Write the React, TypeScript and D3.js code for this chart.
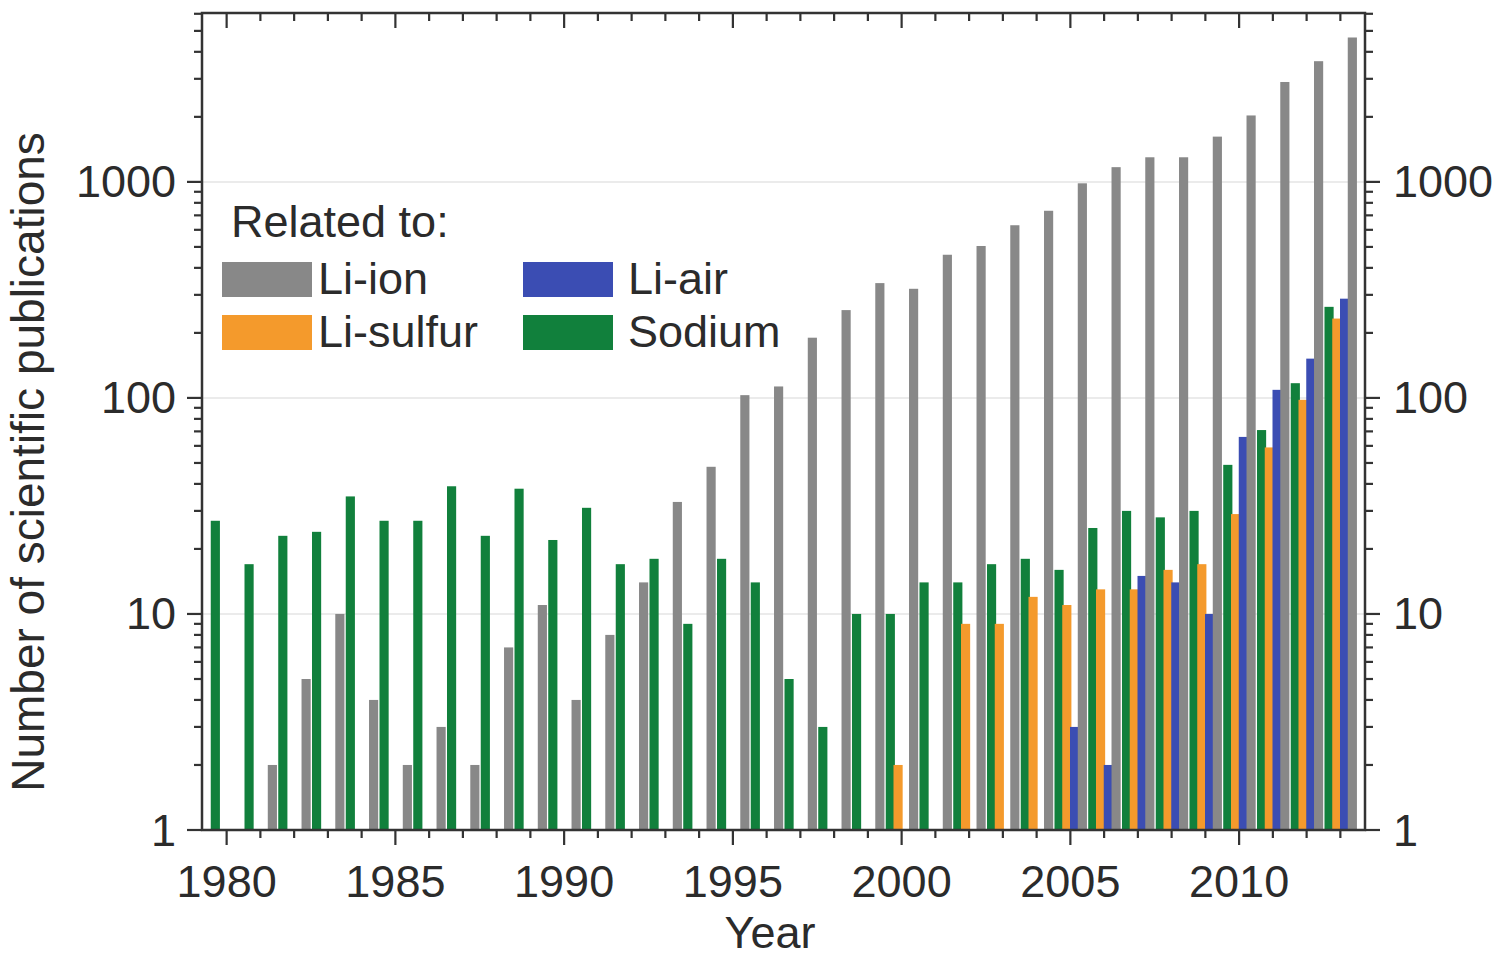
import React from "react";
import * as d3 from "d3";

const years: number[] = d3.range(1980, 2014);
const liIon: number[] = [0, 2, 5, 10, 4, 2, 3, 2, 7, 11, 4, 8, 14, 33, 48, 103, 113, 190, 255, 340, 320, 460, 505, 630, 735, 985, 1170, 1300, 1300, 1620, 2030, 2900, 3620, 4660];
const liSulfur: number[] = [0, 0, 0, 0, 0, 0, 0, 0, 0, 0, 0, 0, 0, 0, 0, 0, 0, 0, 0, 0, 2, 0, 9, 9, 12, 11, 13, 13, 16, 17, 29, 59, 98, 233];
const liAir: number[] = [0, 0, 0, 0, 0, 0, 0, 0, 0, 0, 0, 0, 0, 0, 0, 0, 0, 0, 0, 0, 0, 0, 0, 0, 0, 3, 2, 15, 14, 10, 66, 109, 152, 288];
const sodium: number[] = [27, 17, 23, 24, 35, 27, 27, 39, 23, 38, 22, 31, 17, 18, 9, 18, 14, 5, 3, 10, 10, 14, 14, 17, 18, 16, 25, 30, 28, 30, 49, 71, 117, 264];

const seriesOrder: string[] = ["Sodium", "Li-sulfur", "Li-air", "Li-ion"];
const legendOrder: string[] = ["Li-ion", "Li-sulfur", "Li-air", "Sodium"];
const colors: Record<string, string> = {
  "Li-ion": "#888888",
  "Li-sulfur": "#f49a2c",
  "Li-air": "#3b4db3",
  Sodium: "#11803c",
};
const values: Record<string, number[]> = {
  "Li-ion": liIon,
  "Li-sulfur": liSulfur,
  "Li-air": liAir,
  Sodium: sodium,
};
const xTickYears: number[] = [1980, 1985, 1990, 1995, 2000, 2005, 2010];
const yTickValues: number[] = [1, 10, 100, 1000];

const W = 1503;
const H = 957;
const left = 202;
const right = 1365;
const top = 13;
const bottom = 830;
const FONT = "'Liberation Sans', Arial, sans-serif";
const TXT = "#2b2b2b";
const AX = "#333333";
const FS = 45;

export default function App() {
  const x = d3.scaleLinear().domain([1979.27, 2013.73]).range([left, right]);
  const y = d3.scaleLog().domain([1, 6050]).range([bottom, top]);
  const sub = d3.scaleBand<string>().domain(seriesOrder).range([-0.45, 0.47]).paddingInner(0);
  const pxPerYear = x(1) - x(0);
  const barW = sub.bandwidth() * pxPerYear + 1.4;

  const minorY: number[] = [];
  for (let d = 1; d < 10000; d *= 10) {
    for (let k = 1; k < 10; k++) {
      const v = d * k;
      if (v <= 6050) minorY.push(v);
    }
  }

  return (
    <svg width={W} height={H} style={{ display: "block", background: "#fff", position: "absolute", left: 0, top: 0 }}>
      {yTickValues.slice(1).map((v) => (
        <line key={"g" + v} x1={left} x2={right} y1={y(v)} y2={y(v)} stroke="#e4e4e4" strokeWidth={1.5} />
      ))}

      {seriesOrder.map((s) => (
        <g key={s} fill={colors[s]}>
          {years.map((yr, i) => {
            const v = values[s][i];
            if (!v) return null;
            const cx = x(yr + (sub(s) as number) + sub.bandwidth() / 2);
            return <rect key={yr} x={cx - barW / 2} y={y(v)} width={barW} height={bottom - y(v)} />;
          })}
        </g>
      ))}

      <rect x={left} y={top} width={right - left} height={bottom - top} fill="none" stroke={AX} strokeWidth={2.5} />

      {years.map((yr) => {
        const major = yr % 5 === 0;
        const len = major ? 15 : 8;
        return (
          <g key={"xt" + yr} stroke={AX} strokeWidth={2.2}>
            <line x1={x(yr)} x2={x(yr)} y1={bottom} y2={bottom + len} />
            <line x1={x(yr)} x2={x(yr)} y1={top} y2={top + len} />
          </g>
        );
      })}

      {minorY.map((v) => {
        const major = yTickValues.includes(v);
        const len = major ? 15 : 8;
        return (
          <g key={"yt" + v} stroke={AX} strokeWidth={2.2}>
            <line x1={left - len} x2={left} y1={y(v)} y2={y(v)} />
            <line x1={right} x2={right + len} y1={y(v)} y2={y(v)} />
          </g>
        );
      })}

      {yTickValues.map((v) => (
        <g key={"yl" + v} fontFamily={FONT} fontSize={FS} fill={TXT}>
          <text x={176} y={y(v)} textAnchor="end" dominantBaseline="central">
            {v}
          </text>
          <text x={1393} y={y(v)} textAnchor="start" dominantBaseline="central">
            {v}
          </text>
        </g>
      ))}

      {xTickYears.map((yr) => (
        <text key={"xl" + yr} x={x(yr)} y={897} textAnchor="middle" fontFamily={FONT} fontSize={FS} fill={TXT}>
          {yr}
        </text>
      ))}

      <text x={770} y={948} textAnchor="middle" fontFamily={FONT} fontSize={FS} fill={TXT}>
        Year
      </text>
      <text
        transform={`translate(44, 462) rotate(-90)`}
        textAnchor="middle"
        fontFamily={FONT}
        fontSize={46}
        fill={TXT}
      >
        Number of scientific publications
      </text>

      <text x={231} y={237} fontFamily={FONT} fontSize={FS} fill={TXT}>
        Related to:
      </text>
      {legendOrder.map((name, i) => {
        const col = i < 2 ? 0 : 1;
        const row = i % 2;
        const sx = col === 0 ? 222 : 523;
        const sy = row === 0 ? 262 : 315;
        return (
          <g key={name}>
            <rect x={sx} y={sy} width={90} height={35} fill={colors[name]} />
            <text x={sx + (col === 0 ? 96 : 105)} y={sy + 32} fontFamily={FONT} fontSize={FS} fill={TXT}>
              {name}
            </text>
          </g>
        );
      })}
    </svg>
  );
}
